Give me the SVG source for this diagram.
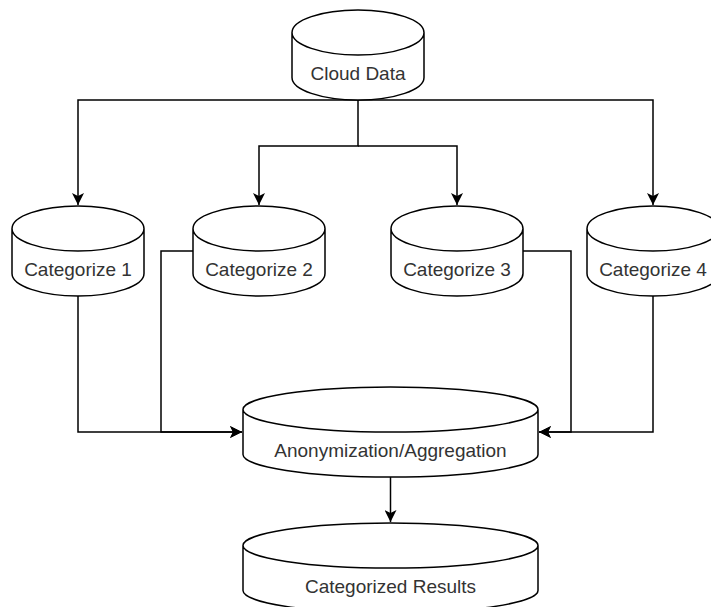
<svg xmlns="http://www.w3.org/2000/svg" width="711" height="607" viewBox="0 0 711 607">
<style>
.cyl{fill:#ffffff;stroke:#000000;stroke-width:1.5}
.lbl{font-family:"Liberation Sans",Arial,sans-serif;font-size:19px;fill:#333333;text-anchor:middle}
.edge{fill:none;stroke:#000000;stroke-width:1.5}
</style>
<defs>
<marker id="arr" markerUnits="userSpaceOnUse" markerWidth="12" markerHeight="12" refX="12" refY="6" orient="auto">
<path d="M0,0 L12,6 L0,12 L3,6 Z" fill="#000000"/>
</marker>
</defs>
<rect width="711" height="607" fill="#ffffff"/>
<g id="connectors">
<path class="edge" d="M358,100 L78,100 L78,205" marker-end="url(#arr)"/>
<path class="edge" d="M358,100 L653,100 L653,205" marker-end="url(#arr)"/>
<path class="edge" d="M358,100 L358,146 L259,146 L259,205" marker-end="url(#arr)"/>
<path class="edge" d="M358,146 L457,146 L457,205" marker-end="url(#arr)"/>
<path class="edge" d="M78,296 L78,432 L242,432" marker-end="url(#arr)"/>
<path class="edge" d="M193,251 L161,251 L161,432 L242,432" marker-end="url(#arr)"/>
<path class="edge" d="M523,251 L571,251 L571,432 L539,432" marker-end="url(#arr)"/>
<path class="edge" d="M653,296 L653,432 L539,432" marker-end="url(#arr)"/>
<path class="edge" d="M390.5,477 L390.5,522" marker-end="url(#arr)"/>
</g>
<g id="cloud-data">
<path class="cyl" d="M292,32.5 A66,22.5 0 0 1 424,32.5 L424,77.5 A66,22.5 0 0 1 292,77.5 Z M292,32.5 A66,22.5 0 0 0 424,32.5"/>
<text class="lbl" x="358" y="80">Cloud Data</text>
</g>
<g id="categorize-1">
<path class="cyl" d="M12,228.5 A66,22.5 0 0 1 144,228.5 L144,273.5 A66,22.5 0 0 1 12,273.5 Z M12,228.5 A66,22.5 0 0 0 144,228.5"/>
<text class="lbl" x="78" y="276">Categorize 1</text>
</g>
<g id="categorize-2">
<path class="cyl" d="M193,228.5 A66,22.5 0 0 1 325,228.5 L325,273.5 A66,22.5 0 0 1 193,273.5 Z M193,228.5 A66,22.5 0 0 0 325,228.5"/>
<text class="lbl" x="259" y="276">Categorize 2</text>
</g>
<g id="categorize-3">
<path class="cyl" d="M391,228.5 A66,22.5 0 0 1 523,228.5 L523,273.5 A66,22.5 0 0 1 391,273.5 Z M391,228.5 A66,22.5 0 0 0 523,228.5"/>
<text class="lbl" x="457" y="276">Categorize 3</text>
</g>
<g id="categorize-4">
<path class="cyl" d="M587,228.5 A66,22.5 0 0 1 719,228.5 L719,273.5 A66,22.5 0 0 1 587,273.5 Z M587,228.5 A66,22.5 0 0 0 719,228.5"/>
<text class="lbl" x="653" y="276">Categorize 4</text>
</g>
<g id="anonymization-aggregation">
<path class="cyl" d="M243,409.5 A147.5,22.5 0 0 1 538,409.5 L538,454.5 A147.5,22.5 0 0 1 243,454.5 Z M243,409.5 A147.5,22.5 0 0 0 538,409.5"/>
<text class="lbl" x="390.5" y="457">Anonymization/Aggregation</text>
</g>
<g id="categorized-results">
<path class="cyl" d="M243,545.5 A147.5,22.5 0 0 1 538,545.5 L538,590.5 A147.5,22.5 0 0 1 243,590.5 Z M243,545.5 A147.5,22.5 0 0 0 538,545.5"/>
<text class="lbl" x="390.5" y="593">Categorized Results</text>
</g>
</svg>
